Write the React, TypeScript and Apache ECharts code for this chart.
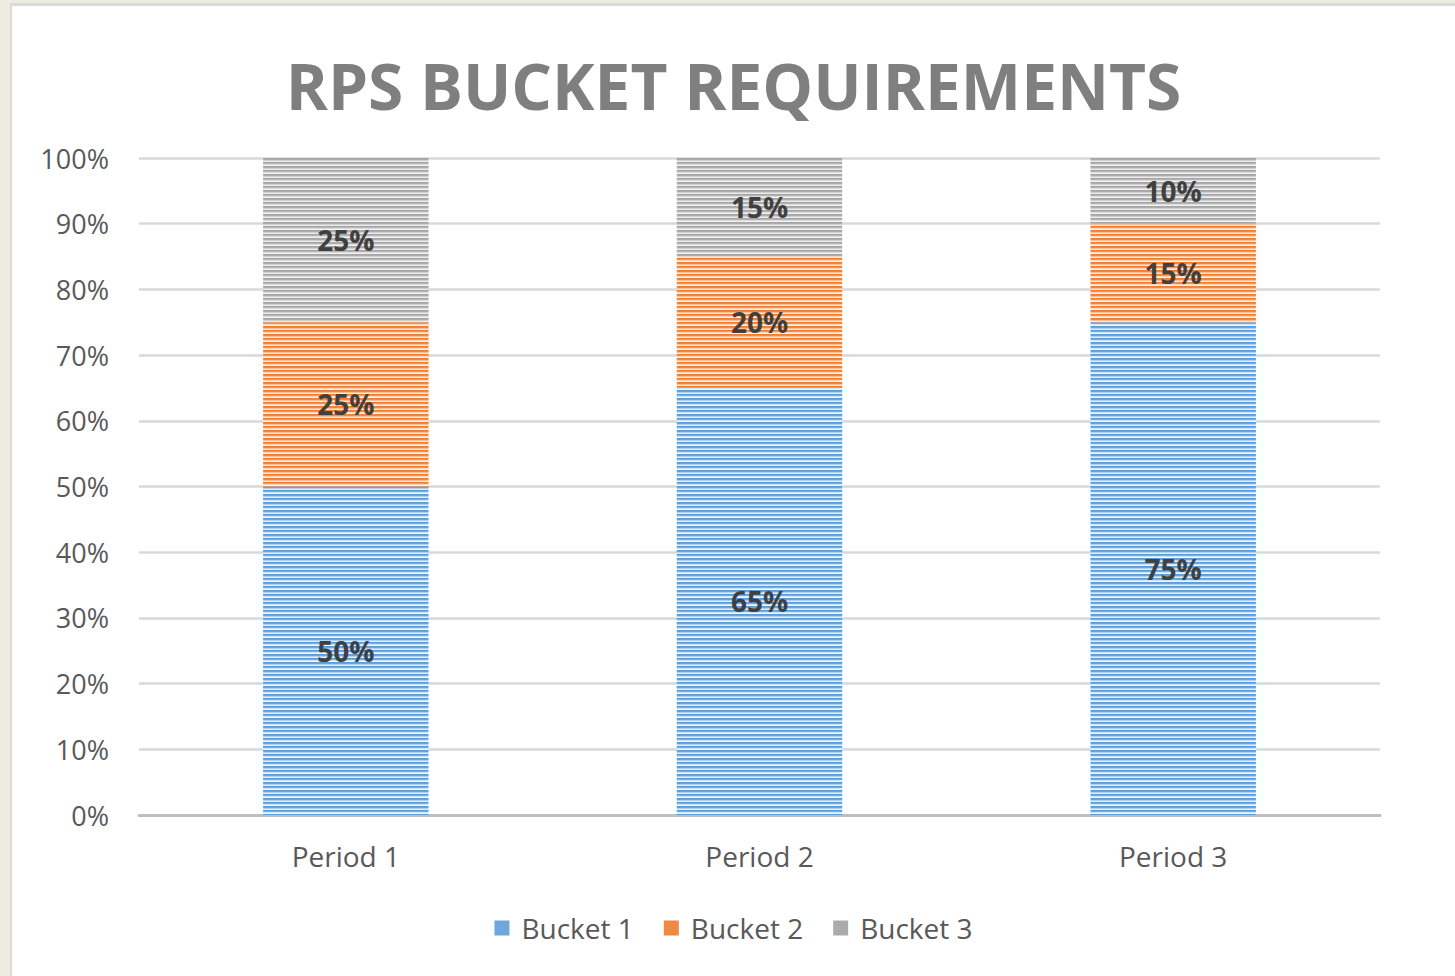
import React, { useEffect, useRef } from "react";
import * as echarts from "echarts";

const categories = ["Period 1", "Period 2", "Period 3"];
const bucket1 = [50, 65, 75];
const bucket2 = [25, 20, 15];
const bucket3 = [25, 15, 10];
const seriesNames = ["Bucket 1", "Bucket 2", "Bucket 3"];
const legendColors = ["#6fa6dc", "#ef8a45", "#ababab"];
const yTicks = [0, 10, 20, 30, 40, 50, 60, 70, 80, 90, 100];

function stripe(rows: string[]) {
  const c = document.createElement("canvas");
  c.width = 4;
  c.height = rows.length;
  const ctx = c.getContext("2d")!;
  rows.forEach((col, i) => {
    ctx.fillStyle = col;
    ctx.fillRect(0, i, 4, 1);
  });
  return c;
}

const blueRows = ["#5b9bd5", "#6aa4da", "#b4d0ee", "#e4eefa", "#5b9bd5", "#7aafe0", "#cfe1f5", "#f2f7fc"];
const orangeRows = ["#ed7d31", "#ef8842", "#f6bf99", "#fde8da", "#ed7d31", "#f09552", "#f9d4ba", "#fef3ea"];
const greyRows = ["#a5a5a5", "#acacac", "#cfcfcf", "#ebebeb", "#a5a5a5", "#b5b5b5", "#dadada", "#f3f3f3"];

export default function App() {
  const ref = useRef<HTMLDivElement>(null);
  useEffect(() => {
    if (!ref.current) return;
    const chart = echarts.init(ref.current, undefined, { renderer: "svg" });
    const pats = [blueRows, orangeRows, greyRows].map((r) => ({
      image: stripe(r),
      repeat: "repeat",
    }));
    const data = [bucket1, bucket2, bucket3];
    const font = "'Open Sans', sans-serif";
    chart.setOption({
      animation: false,
      backgroundColor: "#ffffff",
      textStyle: { fontFamily: font },
      title: {
        text: "RPS BUCKET REQUIREMENTS",
        left: "center",
        top: 42,
        textStyle: {
          fontFamily: font,
          fontWeight: "bold",
          fontSize: 64,
          color: "#7f7f7f",
        },
      },
      legend: {
        bottom: 29,
        left: "center",
        icon: "rect",
        itemWidth: 15,
        itemHeight: 15,
        itemGap: 30,
        data: seriesNames.map((n, i) => ({ name: n, itemStyle: { color: legendColors[i] } })),
        textStyle: { fontFamily: font, fontSize: 28, color: "#595959", padding: [0, 0, 0, 7] },
      },
      grid: { left: 127, right: 75, top: 152, bottom: 161 },
      xAxis: {
        type: "category",
        data: categories,
        axisTick: { show: false },
        axisLine: { lineStyle: { color: "#bfbfbf", width: 3 } },
        axisLabel: { fontFamily: font, fontSize: 28, color: "#595959", margin: 27 },
      },
      yAxis: {
        type: "value",
        min: yTicks[0],
        max: yTicks[yTicks.length - 1],
        interval: 10,
        axisLine: { show: false },
        axisTick: { show: false },
        splitLine: { lineStyle: { color: "#d9d9d9", width: 2.5 } },
        axisLabel: {
          fontFamily: font,
          fontSize: 27,
          color: "#595959",
          margin: 30,
          formatter: (v: number) => v + "%",
        },
      },
      series: data.map((d, i) => ({
        name: seriesNames[i],
        type: "bar",
        stack: "total",
        barWidth: "40%",
        data: d,
        itemStyle: { color: pats[i] },
        label: {
          show: true,
          position: "inside",
          formatter: "{c}%",
          fontFamily: font,
          fontWeight: "bold",
          fontSize: 28,
          color: "#404040",
        },
      })),
    });
    return () => chart.dispose();
  }, []);
  return (
    <div
      style={{
        position: "fixed",
        left: 0,
        top: 0,
        width: 1455,
        height: 976,
        background: "#eeece1",
        overflow: "hidden",
      }}
    >
      <div
        style={{
          position: "absolute",
          left: 10,
          top: 3,
          width: 1445,
          height: 973,
          background: "#d9d9d9",
        }}
      />
      <div
        ref={ref}
        style={{ position: "absolute", left: 12, top: 6, width: 1443, height: 970 }}
      />
    </div>
  );
}
